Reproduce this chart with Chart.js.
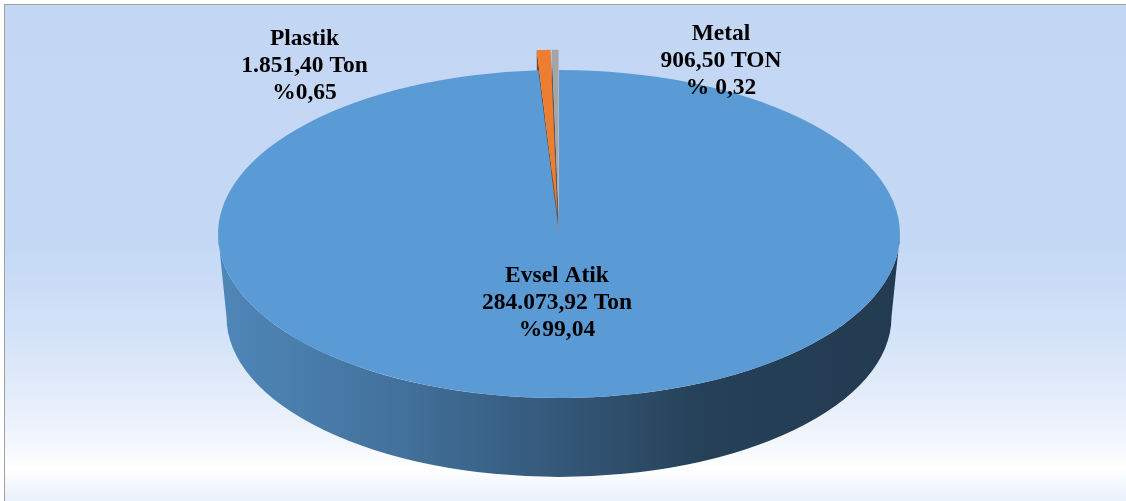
<!DOCTYPE html>
<html>
<head>
<meta charset="utf-8">
<script src="https://cdn.jsdelivr.net/npm/chart.js@4.4.1/dist/chart.umd.min.js"></script>
<style>
  html, body { margin: 0; padding: 0; background: #fff; overflow: hidden; }
  canvas { display: block; }
</style>
</head>
<body>
<canvas id="c" width="1126" height="501"></canvas>
<script>
// Waste quantities by type (tonnes)
const categories = ['Evsel Atik', 'Plastik', 'Metal'];
const tonnage = [284073.92, 1851.40, 906.50];
const units = ['Ton', 'Ton', 'TON'];
const percentSigns = ['%', '%', '% '];

// Look of the 3D disc
const SLICE_COLORS = ['#5b9bd5', '#ed7d31', '#a5a5a5'];
const SLICE_PULL = [0, 42, 42];   // how far each slice is pulled out of the disc
const PIE_RADIUS = 341;
const TILT = 0.481;    // vertical squash of the disc
const DEPTH = 83;      // disc thickness in px
const TAPER = 0.975;   // bottom rim a little narrower (perspective)
const LABEL_ANCHORS = [
  { x: 557, y: 282 },
  { x: 304.5, y: 45 },
  { x: 721, y: 40 }
];
const LINE_GAP = 27;
const LABEL_FONT = 'bold 23.5px "Liberation Serif", "Times New Roman", serif';

function fmtTR(v) {
  const parts = v.toFixed(2).split('.');
  return parts[0].replace(/\B(?=(\d{3})+(?!\d))/g, '.') + ',' + parts[1];
}

function shade(hex, f) {
  const n = parseInt(hex.slice(1), 16);
  const r = Math.round(((n >> 16) & 255) * f);
  const g = Math.round(((n >> 8) & 255) * f);
  const b = Math.round((n & 255) * f);
  return `rgb(${r},${g},${b})`;
}

const total = tonnage.reduce((a, b) => a + b, 0);

const tiltedPie = {
  id: 'tiltedPie',
  beforeDraw(chart) {
    const ctx = chart.ctx;
    const W = chart.width, H = chart.height;
    ctx.save();
    ctx.fillStyle = '#ffffff';
    ctx.fillRect(0, 0, W, H);
    const g = ctx.createLinearGradient(0, 5, 0, H);
    g.addColorStop(0, '#c3d7f5');
    g.addColorStop(0.49, '#c5d9f5');
    g.addColorStop(0.655, '#d2e2f8');
    g.addColorStop(0.80, '#e6eefa');
    g.addColorStop(0.877, '#f1f6fd');
    g.addColorStop(0.933, '#ffffff');
    g.addColorStop(1, '#e9f1fb');
    ctx.fillStyle = g;
    ctx.fillRect(5, 5, W - 5, H - 5);
    ctx.fillStyle = '#a0a0a0';
    ctx.fillRect(4, 4, W - 4, 1);
    ctx.fillRect(4, 4, 1, H - 4);
    ctx.restore();
  },
  beforeDatasetsDraw(chart) {
    const ctx = chart.ctx;
    const area = chart.chartArea;
    const cx = (area.left + area.right) / 2;
    const cy = (area.top + area.bottom) / 2;
    const toScreenY = y => cy + TILT * (y - cy);
    const left = cx - PIE_RADIUS, right = cx + PIE_RADIUS;
    const arcs = chart.getDatasetMeta(0).data;

    // pull slices out along their middle angle
    this._moved = [];
    arcs.forEach((arc, i) => {
      const p = SLICE_PULL[i] || 0;
      if (!p) return;
      const h = (arc.startAngle + arc.endAngle) / 2;
      const dx = Math.cos(h) * p, dy = Math.sin(h) * p;
      arc.x += dx; arc.y += dy;
      this._moved.push([arc, dx, dy]);
    });

    arcs.forEach((arc, i) => {
      const color = SLICE_COLORS[i];
      const R = arc.outerRadius;
      const ox = arc.x;
      const oy = toScreenY(arc.y);

      // radial cut faces of pulled-out slices
      if (SLICE_PULL[i]) {
        ctx.fillStyle = shade(color, 0.55);
        [arc.startAngle, arc.endAngle].forEach(t => {
          const px = ox + R * Math.cos(t), py = oy + R * TILT * Math.sin(t);
          const bx = ox + R * TAPER * Math.cos(t), by = oy + DEPTH + R * TILT * TAPER * Math.sin(t);
          ctx.beginPath();
          ctx.moveTo(ox, oy);
          ctx.lineTo(px, py);
          ctx.lineTo(bx, by);
          ctx.lineTo(ox, oy + DEPTH);
          ctx.closePath();
          ctx.fill();
        });
      }

      // front rim of the disc
      for (let k = -1; k <= 1; k++) {
        const lo = Math.max(arc.startAngle, 2 * Math.PI * k);
        const hi = Math.min(arc.endAngle, 2 * Math.PI * k + Math.PI);
        if (hi <= lo) continue;
        const g = ctx.createLinearGradient(left, 0, right, 0);
        g.addColorStop(0, shade(color, 0.87));
        g.addColorStop(0.27, shade(color, 0.73));
        g.addColorStop(0.5, shade(color, 0.57));
        g.addColorStop(0.72, shade(color, 0.41));
        g.addColorStop(1, shade(color, 0.38));
        ctx.fillStyle = g;
        ctx.beginPath();
        ctx.ellipse(ox, oy, R, R * TILT, 0, lo, hi, false);
        ctx.ellipse(ox, oy + DEPTH, R * TAPER, R * TILT * TAPER, 0, hi, lo, true);
        ctx.closePath();
        ctx.fill();
      }
    });

    // squash the slice tops into an ellipse
    ctx.save();
    ctx.translate(0, cy);
    ctx.scale(1, TILT);
    ctx.translate(0, -cy);
  },
  afterDatasetsDraw(chart) {
    chart.ctx.restore();
    (this._moved || []).forEach(([arc, dx, dy]) => { arc.x -= dx; arc.y -= dy; });
    this._moved = [];
  },
  afterDraw(chart) {
    const ctx = chart.ctx;
    ctx.save();
    ctx.font = LABEL_FONT;
    ctx.fillStyle = '#000000';
    ctx.textAlign = 'center';
    ctx.textBaseline = 'alphabetic';
    categories.forEach((name, i) => {
      const pct = tonnage[i] / total * 100;
      const lines = [
        name,
        fmtTR(tonnage[i]) + ' ' + units[i],
        percentSigns[i] + fmtTR(pct)
      ];
      const a = LABEL_ANCHORS[i];
      lines.forEach((txt, j) => ctx.fillText(txt, a.x, a.y + j * LINE_GAP));
    });
    ctx.restore();
  }
};

new Chart(document.getElementById('c'), {
  type: 'pie',
  data: {
    labels: categories,
    datasets: [{
      data: tonnage,
      backgroundColor: SLICE_COLORS,
      borderWidth: 0,
      radius: PIE_RADIUS,
      clip: false
    }]
  },
  options: {
    responsive: false,
    animation: false,
    events: [],
    layout: { padding: { left: 0, right: 8, top: 0, bottom: 33 } },
    plugins: {
      legend: { display: false },
      tooltip: { enabled: false }
    }
  },
  plugins: [tiltedPie]
});
</script>
</body>
</html>
